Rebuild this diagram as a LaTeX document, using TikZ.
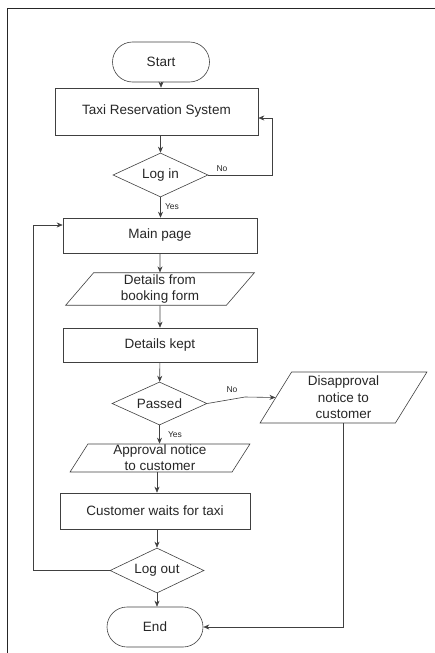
\documentclass[tikz,border=0pt]{standalone}
\usepackage{fontspec}
\setmainfont{Liberation Sans}
\usetikzlibrary{shapes.geometric, arrows.meta}

\tikzset{
    block/.style = {draw = black!75, line width = 0.6pt, minimum height = 35pt, inner sep = 2pt, align = center}, % Прямоугольник
    term/.style = {block, rounded corners = 20pt, minimum width = 97pt, minimum height = 40pt}, % Начало / конец
    decision/.style = {block, diamond, aspect = 2.2, minimum width = 95pt, minimum height = 44pt, inner sep = 1pt}, % Ромб
    inout/.style = {block, trapezium, trapezium left angle = 62, trapezium right angle = 118, trapezium stretches = true}, % Параллелограмм
    arr/.style = {draw = black!75, line width = 0.6pt, -{Stealth[length = 6pt, width = 5pt]}}, % Стрелка
    lbl/.style = {font = \fontsize{8.5}{10}\selectfont, inner sep = 1pt} % Подписи Yes / No
}

\begin{document}
\begin{tikzpicture}[x = 1pt, y = -1pt, font = \fontsize{13.5}{16}\selectfont, text = black!85]
    \useasboundingbox (0, 0) rectangle (435, 653);
    \draw [line width = 1pt, black!85] (7, 653) -- (7, 8) -- (435, 8); % Рамка

    % Блоки
    \node [term] (start) at (161, 62) {Start};
    \node [block, minimum width = 203pt, minimum height = 47pt] (taxi) at (156.5, 111.5) {Taxi Reservation System};
    \node [decision] (login) at (160.5, 175) {Log in};
    \node [block, minimum width = 194pt] (main) at (160, 235.5) {Main page};
    \node [inout, minimum width = 189pt, minimum height = 32pt] (booking) at (160, 289) {Details from\\booking form};
    \node [block, minimum width = 194pt, minimum height = 34pt] (kept) at (160, 345) {Details kept};
    \node [decision, minimum height = 43pt] (passed) at (159.5, 403.5) {Passed};
    \node [inout, minimum width = 167pt, minimum height = 51pt, trapezium left angle = 64, trapezium right angle = 116,
        font = \fontsize{13.5}{16.5}\selectfont] (disapp) at (343.5, 397.5) {Disapproval\\notice to\\customer};
    \node [inout, minimum width = 180pt, minimum height = 28pt, inner sep = 0pt, trapezium left angle = 66, trapezium right angle = 114]
        (approval) at (160, 458) {Approval notice\\to customer};
    \node [block, minimum width = 190pt, minimum height = 36pt] (waits) at (155, 511) {Customer waits for taxi};
    \node [decision, minimum width = 94pt, minimum height = 45pt] (logout) at (157, 570.5) {Log out};
    \node [term, minimum width = 96pt] (end) at (155, 627) {End};

    % Точки изгиба
    \coordinate (nobend) at (272, 118);
    \coordinate (passbend) at (245, 397);
    \coordinate (backbend) at (33, 225);

    % Связи
    \draw [arr] (start) -- (start |- taxi.north);
    \draw [arr] (login |- taxi.south) -- (login.north);
    \draw [arr] (login.east) -| (nobend) -- (taxi.east |- nobend);
    \node [lbl] (nolog) at (222, 169) {No};
    \draw [arr] (login) -- (login |- main.north);
    \node [lbl] (yeslog) at (172, 207) {Yes};
    \draw [arr] (main) -- (booking);
    \draw [arr] (booking) -- (kept);
    \draw [arr] (kept) -- (passed);
    \draw [arr] (passed.east) -- (passbend) -- (disapp.west);
    \node [lbl] (nopass) at (232, 390) {No};
    \draw [arr] (passed) -- (passed |- approval.north);
    \node [lbl] (yespass) at (175, 435) {Yes};
    \draw [arr] (approval.south -| logout) -- (waits.north -| logout);
    \draw [arr] (waits.south -| logout) -- (logout.north);
    \draw [arr] (logout) -- (logout |- end.north);
    \draw [arr] (logout.west) -| (backbend) -- (main.west |- backbend);
    \draw [arr] (disapp.south) |- (end.east);
\end{tikzpicture}
\end{document}
